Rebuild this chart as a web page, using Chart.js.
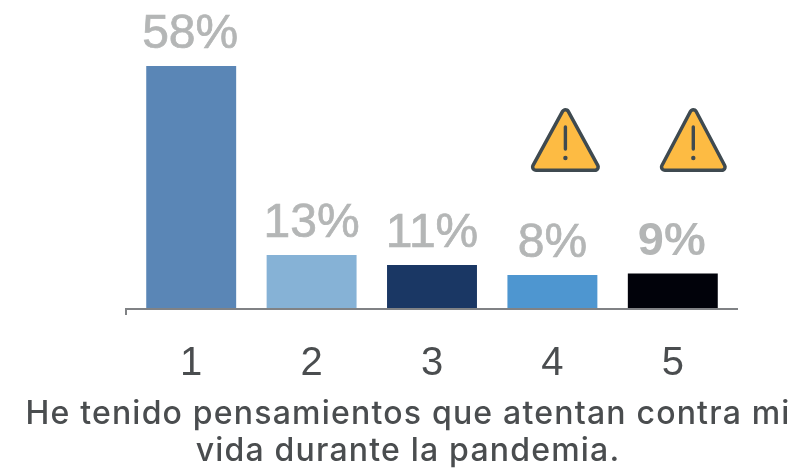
<!DOCTYPE html>
<html><head><meta charset="utf-8">
<script src="https://cdn.jsdelivr.net/npm/chart.js@4"></script>
<style>html,body{margin:0;padding:0;background:#fff}#w{width:796px;height:471px;position:relative}</style>
</head><body><div id="w"><canvas id="c"></canvas></div>
<script>
const categories = ['1','2','3','4','5'];
const barHeights = [58,12.9,10.5,8.1,8.5];
const valueLabels = ['58%','13%','11%','8%','9%'];
const barColors = ['#5a86b6','#86b2d6','#1a3764','#4e96d0','#01020a'];
const warningCategories = [3,4];
const titleLines = ['He tenido pensamientos que atentan contra mi','vida durante la pandemia.'];

const decor = {
  id:'decor',
  afterDatasetsDraw(ch){
    const {ctx,chartArea:a,scales:{x,y}} = ch;
    ctx.save();
    ctx.strokeStyle='#808285';ctx.lineWidth=2;
    ctx.beginPath();ctx.moveTo(a.left-5,a.bottom+6);ctx.lineTo(a.left-5,a.bottom);ctx.lineTo(a.right+5,a.bottom);ctx.stroke();
    ctx.fillStyle='#b4b6b6';ctx.strokeStyle='#b4b6b6';ctx.lineWidth=0.7;ctx.textAlign='center';ctx.textBaseline='middle';
    barHeights.forEach((v,i)=>{
      ctx.font=(i===4?'bold ':'')+(i===4?'47px':'48px')+' "Liberation Sans"';
      const px=x.getPixelForValue(i)+(i===4?-1:0)-(i===0?1:0), py=y.getPixelForValue(v)-31;
      ctx.fillText(valueLabels[i],px,py);
      if(i!==4) ctx.strokeText(valueLabels[i],px,py);
    });
    warningCategories.forEach((c,k)=>{
      const cx=x.getPixelForValue(c)+(k===0?13:20.5), cy=140;
      const w=k===0?29.5:28.5,t=-27,b=27;
      ctx.lineJoin='round';
      ctx.beginPath();ctx.moveTo(cx,cy+t);ctx.lineTo(cx+w,cy+b);ctx.lineTo(cx-w,cy+b);ctx.closePath();
      ctx.lineWidth=10;ctx.strokeStyle='#3f4a50';ctx.stroke();
      ctx.lineWidth=3;ctx.strokeStyle='#fdbb43';ctx.stroke();
      ctx.fillStyle='#fdbb43';ctx.fill();
      ctx.lineWidth=3.4;ctx.strokeStyle='#3f4a50';ctx.lineCap='round';
      ctx.beginPath();ctx.moveTo(cx,cy-13);ctx.lineTo(cx,cy+9);ctx.stroke();
      ctx.beginPath();ctx.arc(cx,cy+18,2.2,0,7);ctx.fillStyle='#3f4a50';ctx.fill();
    });
    ctx.fillStyle='#4a4d4f';ctx.font='500 32px Inter';ctx.letterSpacing='1.2px';
    ctx.fillText(titleLines[0],408,414);
    ctx.fillText(titleLines[1],408,451);
    ctx.restore();
  }
};
new Chart(document.getElementById('c'),{
  type:'bar',
  data:{labels:categories,datasets:[{data:barHeights,backgroundColor:barColors,barPercentage:0.747,categoryPercentage:1}]},
  options:{
    responsive:true,maintainAspectRatio:false,animation:false,
    layout:{padding:{left:131,right:63,top:0,bottom:0}},
    plugins:{legend:{display:false},tooltip:{enabled:false}},
    scales:{
      y:{display:false,min:0,max:73.75},
      x:{
        afterFit(s){s.height=162;},
        grid:{display:false,drawTicks:false},
        border:{display:true,color:'#808285',width:2},
        ticks:{color:'#4a4d4f',font:{family:'"Liberation Sans"',size:40},padding:31,maxRotation:0}
      }
    }
  },
  plugins:[decor]
});
</script></body></html>
